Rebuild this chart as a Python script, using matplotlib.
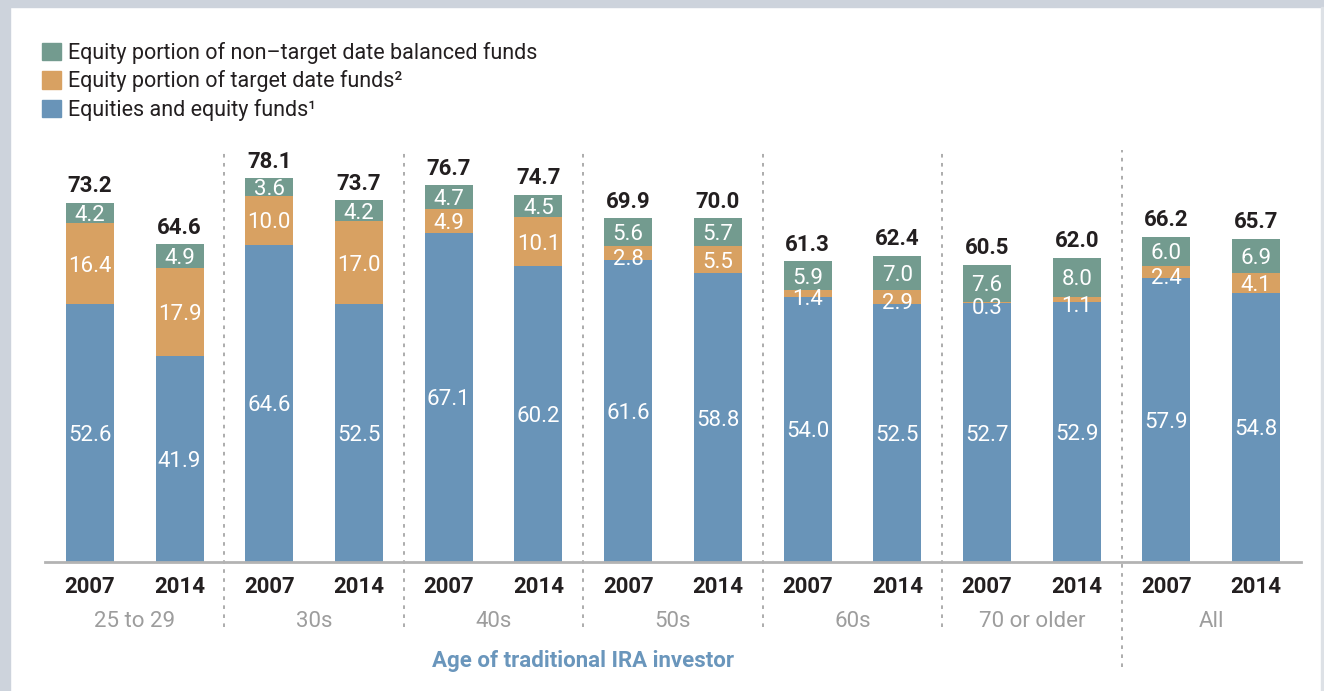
import matplotlib
matplotlib.use("Agg")
import matplotlib.pyplot as plt
from matplotlib.patches import Rectangle, Patch
import numpy as np

plt.rcParams['font.family'] = ['Roboto', 'DejaVu Sans']

# Data
age_groups = ["25 to 29", "30s", "40s", "50s", "60s", "70 or older", "All"]
years = ["2007", "2014"]
equity_funds = [52.6, 41.9, 64.6, 52.5, 67.1, 60.2, 61.6, 58.8, 54.0, 52.5, 52.7, 52.9, 57.9, 54.8]
target_date = [16.4, 17.9, 10.0, 17.0, 4.9, 10.1, 2.8, 5.5, 1.4, 2.9, 0.3, 1.1, 2.4, 4.1]
balanced = [4.2, 4.9, 3.6, 4.2, 4.7, 4.5, 5.6, 5.7, 5.9, 7.0, 7.6, 8.0, 6.0, 6.9]
totals = [73.2, 64.6, 78.1, 73.7, 76.7, 74.7, 69.9, 70.0, 61.3, 62.4, 60.5, 62.0, 66.2, 65.7]

series_labels = ["Equity portion of non\u2013target date balanced funds",
                 "Equity portion of target date funds\u00b2",
                 "Equities and equity funds\u00b9"]

c_blue = "#6994b8"
c_orange = "#d8a162"
c_green = "#739b8f"
fs = 16

W, H = 1324, 691
fig = plt.figure(figsize=(W / 100, H / 100), dpi=100)

# page frame bits
fig.patches.append(Rectangle((0, 1 - 7 / H), 1, 7 / H, transform=fig.transFigure, color="#cdd3dc", zorder=0))
fig.patches.append(Rectangle((0, 0), 10 / W, 1, transform=fig.transFigure, color="#cdd3dc", zorder=0))
fig.patches.append(Rectangle((1321 / W, 0), 1.5 / W, 1 - 7 / H, transform=fig.transFigure, color="#dde1e6", zorder=0))

# axes: baseline at y=562 px, x from 45 to 1301 px
ax_left, ax_right = 45, 1301
ax_bottom, ax_top = 562, 150
ax = fig.add_axes([ax_left / W, 1 - ax_bottom / H, (ax_right - ax_left) / W, (ax_bottom - ax_top) / H])
px_per_unit = 4.909
ax.set_ylim(0, (ax_bottom - ax_top) / px_per_unit)
ax.set_xlim(-0.5, 13.5)

x = np.arange(len(equity_funds))
eq = np.array(equity_funds)
td = np.array(target_date)
bl = np.array(balanced)
bw = 0.535

ax.bar(x, eq, bw, color=c_blue, zorder=2)
ax.bar(x, td, bw, bottom=eq, color=c_orange, zorder=2)
ax.bar(x, bl, bw, bottom=eq + td, color=c_green, zorder=2)

# values inside segments
for i in x:
    ax.text(i, eq[i] / 2, f"{eq[i]:.1f}", ha="center", va="center_baseline", color="white", fontsize=fs, zorder=3)
    # small orange slices: label sits a bit low in the original
    off = -0.8 if td[i] < 3.5 else 0
    ax.text(i, eq[i] + td[i] / 2 + off, f"{td[i]:.1f}", ha="center", va="center_baseline", color="white",
            fontsize=fs, zorder=3)
    ax.text(i, eq[i] + td[i] + bl[i] / 2, f"{bl[i]:.1f}", ha="center", va="center_baseline", color="white",
            fontsize=fs, zorder=3)
    ax.annotate(f"{totals[i]:.1f}", (i, eq[i] + td[i] + bl[i]), xytext=(0, 4), textcoords="offset points",
                ha="center", va="bottom", color="#231f20", fontsize=fs, fontweight="bold")

# axes styling
for s in ["top", "right", "left"]:
    ax.spines[s].set_visible(False)
ax.spines["bottom"].set_color("#b3b3b3")
ax.spines["bottom"].set_linewidth(2)
ax.set_yticks([])
ax.set_xticks(x)
ax.set_xticklabels(years * len(age_groups), fontsize=fs, fontweight="bold", color="#231f20")
ax.tick_params(axis="x", length=0, pad=10)

# group labels and separators
ymin_sep = -(627 - ax_bottom) / px_per_unit
ymax_sep = (ax_bottom - ax_top) / px_per_unit
for g, name in enumerate(age_groups):
    ax.text(2 * g + 0.5, -(619 - ax_bottom) / px_per_unit, name, ha="center", va="center_baseline",
            color="#9d9d9d", fontsize=fs)
    if g > 0:
        lo = ymin_sep if g < len(age_groups) - 1 else -(667 - ax_bottom) / px_per_unit
        ax.plot([2 * g - 0.5, 2 * g - 0.5], [lo, ymax_sep], color="#a6a6a6", lw=1.3,
                linestyle=(0, (2, 3)), clip_on=False, zorder=1)

ax.text(5.5, -(659 - ax_bottom) / px_per_unit, "Age of traditional IRA investor", ha="center",
        va="center_baseline", color="#6a96bc", fontsize=fs, fontweight="bold")

# legend
handles = [Patch(color=c_green), Patch(color=c_orange), Patch(color=c_blue)]
fig.legend(handles, series_labels, loc="upper left", bbox_to_anchor=(42 / W, 1 - 42 / H),
           frameon=False, fontsize=15.5, handlelength=0.87, handleheight=0.87, handletextpad=0.32,
           labelspacing=0.3, borderpad=0, borderaxespad=0, labelcolor="#231f20")

fig.savefig("out.png", dpi=100)
